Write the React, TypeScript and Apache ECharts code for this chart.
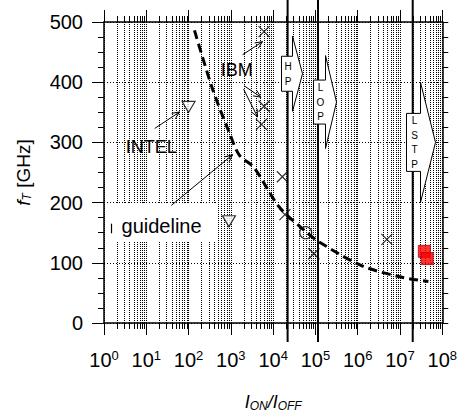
import React, { useEffect, useRef } from 'react';
import * as echarts from 'echarts';

// ---------- data ----------
const xTickExponents = [0, 1, 2, 3, 4, 5, 6, 7, 8];
const yTickValues = [0, 100, 200, 300, 400, 500];
const minorMultipliers = [2, 3, 4, 5, 6, 7, 8, 9];

const ibmX = [6100, 6100, 5300, 16500, 19000, 92000, 4900000];
const ibmY = [484, 360, 330, 243, 180, 115, 139];
const intelX = [100, 900];
const intelY = [359, 169];
const circleX = [59000];
const circleY = [150];
const redX = [37700000, 44000000];
const redY = [119, 107];

const guideX = [138, 372, 923, 1585, 3548, 13800, 58900, 120000, 1260000, 11000000, 47000000];
const guideY = [486, 388, 316, 279, 258, 193, 152, 135, 95, 76, 69];

const thresholdX = [22000, 115000, 20000000];
const regimeLabels = ['HP', 'LOP', 'LSTP'];
const regimeX = [15400, 87000, 14000000];
const regimeY = [414, 367, 300];

const textLabels = ['IBM', 'INTEL'];
const textX = [1384, 13.1];
const textY = [421, 292];

const pointerFromX = [1896, 2078, 2000, 15.85, 39.2];
const pointerFromY = [445.6, 393.9, 388.5, 323.2, 195.4];
const pointerToX = [5598, 5139, 4274, 61.4, 1102];
const pointerToY = [467.3, 375, 342.3, 350.5, 279.6];

const legendText = 'guideline';
const legendBoxX = [1, 480];
const legendBoxY = [135.5, 197.5];
const legendTextX = 2.6;
const legendTextY = 161.6;
const legendMarkX = 1.46;
const legendMarkY = [149, 165];

// ---------- styles ----------
const FONT = '"Liberation Sans", Arial, Helvetica, sans-serif';
const ARROW_GEOM = [
  { rw: 11, rh: 35, hw: 10, hh: 75 },
  { rw: 12, rh: 44, hw: 11, hh: 93 },
  { rw: 14, rh: 58, hw: 15, hh: 120 },
];

const minorValues: number[] = [];
for (let e = 0; e < 8; e++) for (const m of minorMultipliers) minorValues.push(m * Math.pow(10, e));

const snap = (v: number) => Math.round(v) + 0.5;

export default function App() {
  const ref = useRef<HTMLDivElement>(null);
  useEffect(() => {
    if (!ref.current) return;
    const chart = echarts.init(ref.current, null, { renderer: 'svg' });

    const xAxisBase: any = {
      type: 'log',
      logBase: 10,
      min: Math.pow(10, xTickExponents[0]),
      max: Math.pow(10, xTickExponents[xTickExponents.length - 1]),
      interval: 1,
      axisLine: { show: true, onZero: false, lineStyle: { color: '#000', width: 1.5 } },
      axisTick: { show: true, length: 12, lineStyle: { color: '#000', width: 1 } },
      minorTick: { show: false },
    };

    const option: any = {
      animation: false,
      backgroundColor: '#fff',
      grid: { left: 104, right: 16, top: 22, bottom: 89, containLabel: false },
      xAxis: [
        {
          ...xAxisBase,
          position: 'bottom',
          name: '{i|I}{s|ON}{i|/I}{s|OFF}',
          nameLocation: 'middle',
          nameGap: 69,
          nameTextStyle: {
            rich: {
              i: { fontSize: 18, fontStyle: 'italic', fontFamily: FONT, color: '#000', lineHeight: 20 },
              s: { fontSize: 12, fontStyle: 'italic', fontFamily: FONT, color: '#000', verticalAlign: 'bottom', lineHeight: 14 },
            },
          },
          axisLabel: {
            margin: 26,
            hideOverlap: false,
            showMinLabel: true,
            showMaxLabel: true,
            formatter: (v: number) => `{b|10}{s|${Math.round(Math.log10(v))}}`,
            rich: {
              b: { fontSize: 20, fontFamily: FONT, color: '#000', lineHeight: 21 },
              s: { fontSize: 13, fontFamily: FONT, color: '#000', verticalAlign: 'top', lineHeight: 14 },
            },
          },
          splitLine: { show: true, lineStyle: { color: '#000', width: 1, type: [1, 1] } },
        },
        {
          ...xAxisBase,
          position: 'top',
          axisLabel: { show: false },
          splitLine: { show: false },
        },
      ],
      yAxis: [
        {
          type: 'value',
          min: yTickValues[0],
          max: yTickValues[yTickValues.length - 1],
          interval: 100,
          position: 'left',
          name: '{i|f}{s|T}{n| [GHz]}',
          nameLocation: 'middle',
          nameGap: 71,
          nameTextStyle: {
            rich: {
              i: { fontSize: 19, fontStyle: 'italic', fontFamily: FONT, color: '#000', lineHeight: 20 },
              s: { fontSize: 12, fontStyle: 'italic', fontFamily: FONT, color: '#000', verticalAlign: 'bottom', lineHeight: 14 },
              n: { fontSize: 19, fontFamily: FONT, color: '#000', lineHeight: 20 },
            },
          },
          axisLine: { show: true, onZero: false, lineStyle: { color: '#000', width: 1.5 } },
          axisTick: { show: true, length: 12, lineStyle: { color: '#000', width: 1 } },
          minorTick: { show: true, splitNumber: 4, length: 6, lineStyle: { color: '#000', width: 1 } },
          axisLabel: { margin: 21, fontSize: 20, fontFamily: FONT, color: '#000' },
          splitLine: { show: true, lineStyle: { color: '#000', width: 1, type: [1, 2] } },
        },
        {
          type: 'value',
          min: yTickValues[0],
          max: yTickValues[yTickValues.length - 1],
          interval: 100,
          position: 'right',
          axisLine: { show: true, onZero: false, lineStyle: { color: '#000', width: 1.5 } },
          axisTick: { show: true, length: 6, lineStyle: { color: '#000', width: 1 } },
          minorTick: { show: true, splitNumber: 4, length: 6, lineStyle: { color: '#000', width: 1 } },
          axisLabel: { show: false },
          splitLine: { show: false },
        },
      ],
      series: [
        // minor log grid lines + minor ticks
        {
          type: 'custom',
          z: 1,
          silent: true,
          clip: false,
          data: minorValues.map((v) => [v, 0]),
          renderItem: (params: any, api: any) => {
            const cs = params.coordSys;
            const x = snap(api.coord([api.value(0), 0])[0]);
            const top = cs.y;
            const bottom = cs.y + cs.height;
            return {
              type: 'group',
              children: [
                { type: 'line', shape: { x1: x, y1: top, x2: x, y2: bottom }, style: { stroke: '#000', lineWidth: 1, lineDash: [1, 1] } },
                { type: 'line', shape: { x1: x, y1: bottom, x2: x, y2: bottom + 6 }, style: { stroke: '#000', lineWidth: 1 } },
                { type: 'line', shape: { x1: x, y1: top, x2: x, y2: top - 6 }, style: { stroke: '#000', lineWidth: 1 } },
              ],
            };
          },
        },
        // legend box "guideline"
        {
          type: 'custom',
          z: 3,
          silent: true,
          clip: false,
          data: [[legendBoxX[0], legendBoxY[0]]],
          renderItem: (params: any, api: any) => {
            const p1 = api.coord([legendBoxX[0], legendBoxY[1]]);
            const p2 = api.coord([legendBoxX[1], legendBoxY[0]]);
            const t = api.coord([legendTextX, legendTextY]);
            const m1 = api.coord([legendMarkX, legendMarkY[0]]);
            const m2 = api.coord([legendMarkX, legendMarkY[1]]);
            return {
              type: 'group',
              children: [
                { type: 'rect', shape: { x: p1[0] + 1, y: p1[1], width: p2[0] - p1[0] - 1, height: p2[1] - p1[1] }, style: { fill: '#fff' } },
                { type: 'line', shape: { x1: snap(m1[0]), y1: m1[1], x2: snap(m1[0]), y2: m2[1] }, style: { stroke: '#000', lineWidth: 1.2 } },
                { type: 'text', x: t[0], y: t[1], style: { text: legendText, fontSize: 20, fontFamily: FONT, fill: '#000', align: 'left', verticalAlign: 'middle' } },
              ],
            };
          },
        },
        // threshold vertical lines with regime block arrows on top
        {
          type: 'custom',
          z: 5,
          silent: true,
          clip: false,
          data: thresholdX.map((v, i) => [v, regimeY[i]]),
          renderItem: (params: any, api: any) => {
            const cs = params.coordSys;
            const i = params.dataIndex;
            const lx = api.coord([thresholdX[i], 0])[0];
            const g = ARROW_GEOM[i];
            const p = api.coord([regimeX[i], regimeY[i]]);
            const x0 = Math.round(p[0]) + 0.5;
            const yc = p[1];
            const rTop = yc - g.rh / 2;
            const rBot = yc + g.rh / 2;
            const pts = [
              [x0, rTop],
              [x0 + g.rw, rTop],
              [x0 + g.rw, yc - g.hh / 2],
              [x0 + g.rw + g.hw, yc],
              [x0 + g.rw, yc + g.hh / 2],
              [x0 + g.rw, rBot],
              [x0, rBot],
            ];
            const letters = regimeLabels[i].split('');
            const n = letters.length;
            const children: any[] = [
              { type: 'line', shape: { x1: lx, y1: cs.y - 22, x2: lx, y2: rTop }, style: { stroke: '#000', lineWidth: 2 } },
              { type: 'line', shape: { x1: lx, y1: rBot, x2: lx, y2: cs.y + cs.height + 19 }, style: { stroke: '#000', lineWidth: 2 } },
              { type: 'polygon', shape: { points: pts }, style: { fill: '#fff', stroke: '#000', lineWidth: 1 } },
            ];
            letters.forEach((ch, k) => {
              children.push({
                type: 'text',
                x: x0 + g.rw / 2 + 1,
                y: yc + (k - (n - 1) / 2) * 14.5,
                style: { text: ch, fontSize: 10, fontFamily: FONT, fill: '#000', align: 'center', verticalAlign: 'middle' },
              });
            });
            return { type: 'group', children };
          },
        },
        // guideline curve
        {
          type: 'line',
          name: 'guideline',
          z: 6,
          data: guideX.map((v, i) => [v, guideY[i]]),
          smooth: 0.3,
          showSymbol: false,
          symbol: 'none',
          clip: false,
          lineStyle: { color: '#000', width: 3, type: [9, 5] },
        },
        // IBM crosses
        {
          type: 'scatter',
          name: 'IBM',
          z: 7,
          data: ibmX.map((v, i) => [v, ibmY[i]]),
          symbol: 'path://M0,0L10,10M10,0L0,10',
          symbolSize: 11,
          itemStyle: { color: 'rgba(0,0,0,0)', borderColor: '#000', borderWidth: 1.2 },
        },
        // INTEL triangles
        {
          type: 'scatter',
          name: 'INTEL',
          z: 7,
          data: intelX.map((v, i) => [v, intelY[i]]),
          symbol: 'triangle',
          symbolRotate: 180,
          symbolSize: [13, 11],
          itemStyle: { color: '#fff', borderColor: '#000', borderWidth: 1.2 },
        },
        // circle
        {
          type: 'scatter',
          z: 7,
          data: circleX.map((v, i) => [v, circleY[i]]),
          symbol: 'circle',
          symbolSize: 12,
          itemStyle: { color: 'rgba(0,0,0,0)', borderColor: '#000', borderWidth: 1.2 },
        },
        // red squares
        {
          type: 'scatter',
          z: 7,
          data: redX.map((v, i) => [v, redY[i]]),
          symbol: 'rect',
          symbolSize: 12,
          itemStyle: { color: '#ff0000', borderColor: '#b00000', borderWidth: 1 },
        },
        // pointer arrows
        {
          type: 'custom',
          z: 8,
          silent: true,
          clip: false,
          data: pointerFromX.map((v, i) => [v, pointerFromY[i]]),
          renderItem: (params: any, api: any) => {
            const i = params.dataIndex;
            const a = api.coord([pointerFromX[i], pointerFromY[i]]);
            const b = api.coord([pointerToX[i], pointerToY[i]]);
            const ang = Math.atan2(b[1] - a[1], b[0] - a[0]);
            const L = 8;
            const sp = 0.42;
            const h1 = [b[0] - L * Math.cos(ang - sp), b[1] - L * Math.sin(ang - sp)];
            const h2 = [b[0] - L * Math.cos(ang + sp), b[1] - L * Math.sin(ang + sp)];
            return {
              type: 'group',
              children: [
                { type: 'line', shape: { x1: a[0], y1: a[1], x2: b[0], y2: b[1] }, style: { stroke: '#000', lineWidth: 1 } },
                { type: 'polyline', shape: { points: [h1, b, h2] }, style: { stroke: '#000', lineWidth: 1, fill: 'none' } },
              ],
            };
          },
        },
        // text labels
        {
          type: 'custom',
          z: 8,
          silent: true,
          clip: false,
          data: textX.map((v, i) => [v, textY[i]]),
          renderItem: (params: any, api: any) => {
            const i = params.dataIndex;
            const p = api.coord([api.value(0), api.value(1)]);
            return {
              type: 'text',
              x: p[0],
              y: p[1],
              style: { text: textLabels[i], fontSize: 18, fontFamily: FONT, fill: '#000', align: 'center', verticalAlign: 'middle' },
            };
          },
        },
      ],
    };

    chart.setOption(option);
    return () => chart.dispose();
  }, []);

  return <div ref={ref} style={{ position: 'absolute', left: 0, top: 0, width: 460, height: 417, background: '#fff' }} />;
}
